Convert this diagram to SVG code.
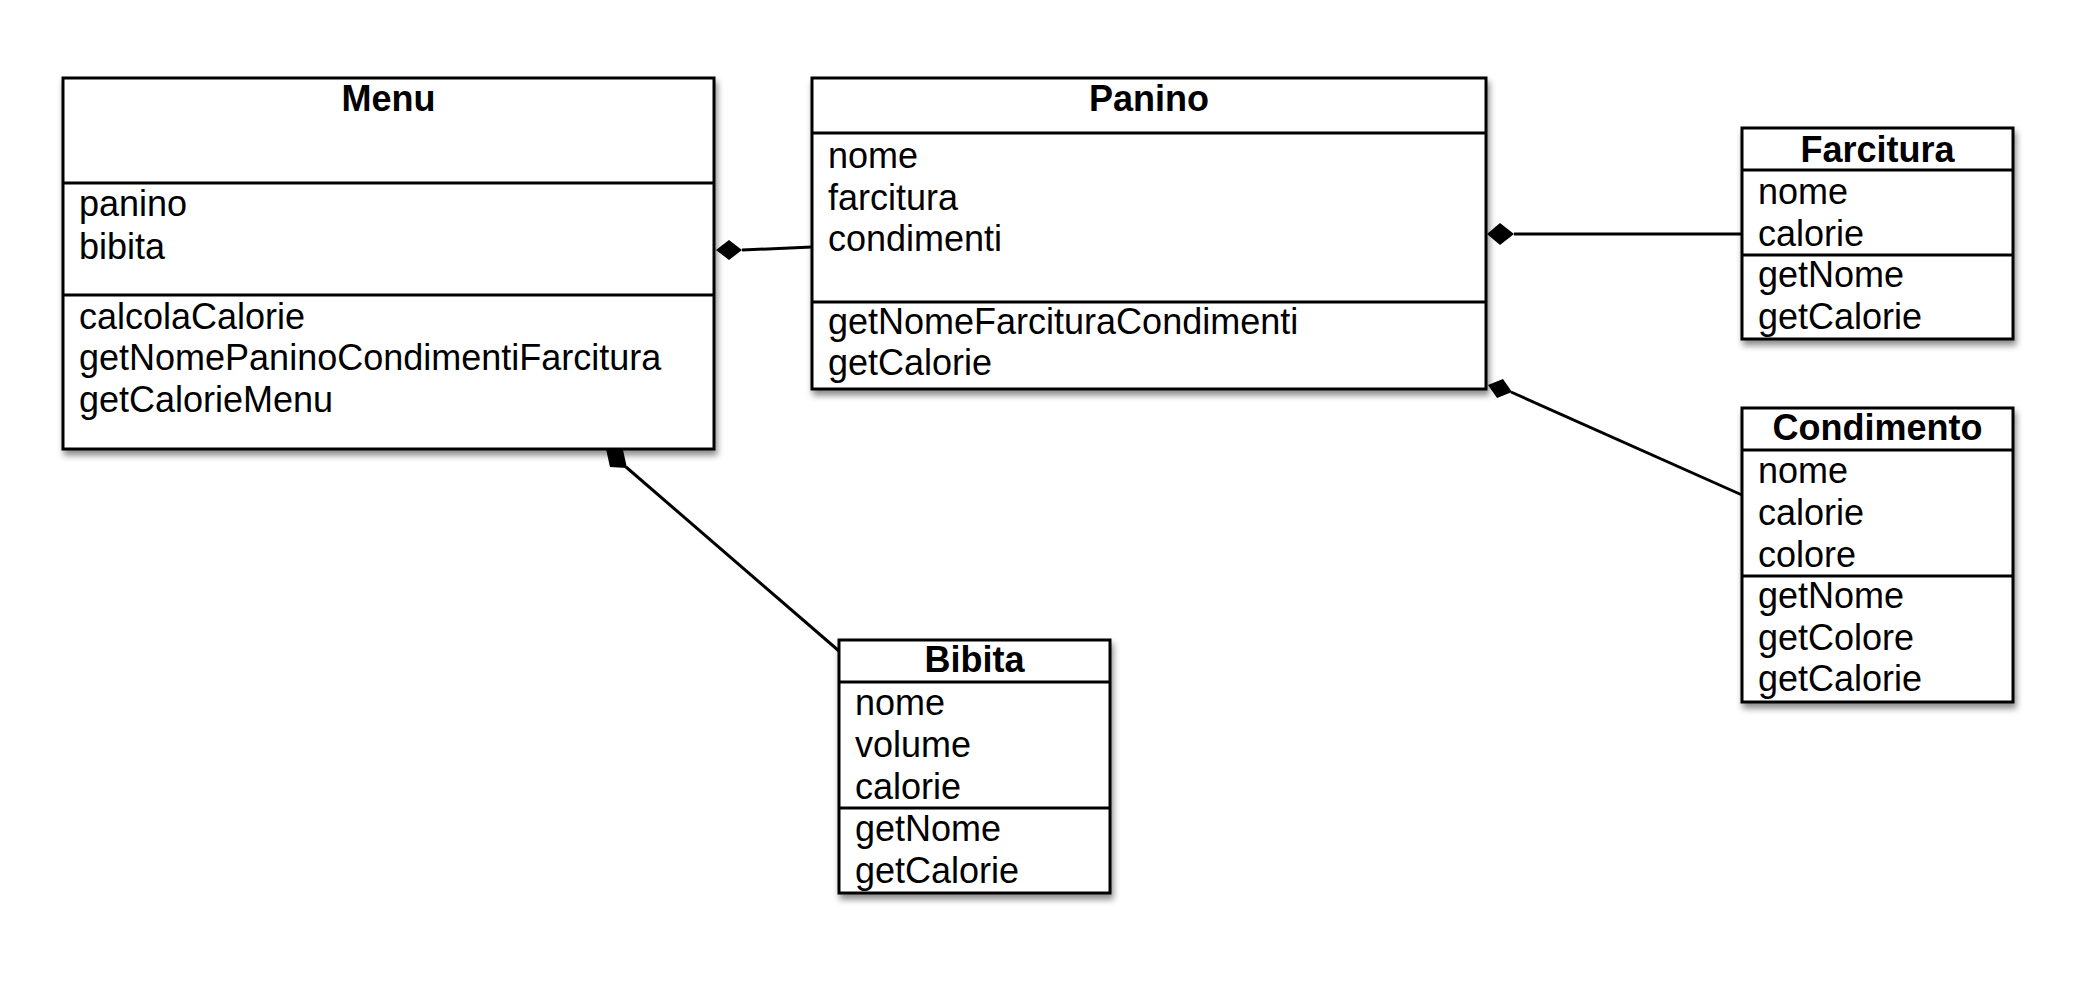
<svg xmlns="http://www.w3.org/2000/svg" width="2100" height="998" viewBox="0 0 2100 998">
<defs>
<filter id="sh" x="-10%" y="-10%" width="130%" height="130%">
<feDropShadow dx="2" dy="5" stdDeviation="3" flood-color="#000" flood-opacity="0.45"/>
</filter>
<style>
.box{fill:#fff;stroke:#000;stroke-width:3;filter:url(#sh)}
.div{stroke:#000;stroke-width:3}
.t{font-family:"Liberation Sans",Arial,Helvetica,sans-serif;font-size:36px;fill:#000}
.h{font-weight:bold;text-anchor:middle}
.ln{stroke:#000;stroke-width:3;fill:none}
.dm{fill:#000;stroke:none}
</style>
</defs>
<rect width="2100" height="998" fill="#fff"/>
<g id="connectors">
<line class="ln" x1="742" y1="250" x2="812" y2="247"/>
<polygon class="dm" points="716,250 729,240 742,250 729,260"/>
<line class="ln" x1="1514" y1="234" x2="1742" y2="234"/>
<polygon class="dm" points="1487,234 1500,223 1514,234 1500,245"/>
<line class="ln" x1="1511" y1="392" x2="1742" y2="495"/>
<polygon class="dm" points="1488,385 1503,379 1512,392 1497,398"/>
<line class="ln" x1="626" y1="467" x2="839" y2="651"/>
<polygon class="dm" points="606,449 623,450 627,468 610,467"/>
</g>
<g id="Menu">
<rect class="box" x="63" y="78" width="651" height="371"/>
<line class="div" x1="63" y1="183" x2="714" y2="183"/>
<line class="div" x1="63" y1="295" x2="714" y2="295"/>
<text class="t h" x="388.5" y="111">Menu</text>
<text class="t" x="79" y="216">panino</text>
<text class="t" x="79" y="259">bibita</text>
<text class="t" x="79" y="329">calcolaCalorie</text>
<text class="t" x="79" y="370">getNomePaninoCondimentiFarcitura</text>
<text class="t" x="79" y="412">getCalorieMenu</text>
</g>
<g id="Panino">
<rect class="box" x="812" y="78" width="674" height="311"/>
<line class="div" x1="812" y1="133" x2="1486" y2="133"/>
<line class="div" x1="812" y1="302" x2="1486" y2="302"/>
<text class="t h" x="1149" y="111">Panino</text>
<text class="t" x="828" y="168">nome</text>
<text class="t" x="828" y="210">farcitura</text>
<text class="t" x="828" y="251">condimenti</text>
<text class="t" x="828" y="334">getNomeFarcituraCondimenti</text>
<text class="t" x="828" y="375">getCalorie</text>
</g>
<g id="Farcitura">
<rect class="box" x="1742" y="128" width="271" height="211"/>
<line class="div" x1="1742" y1="170" x2="2013" y2="170"/>
<line class="div" x1="1742" y1="255" x2="2013" y2="255"/>
<text class="t h" x="1877.5" y="162">Farcitura</text>
<text class="t" x="1758" y="204">nome</text>
<text class="t" x="1758" y="246">calorie</text>
<text class="t" x="1758" y="287">getNome</text>
<text class="t" x="1758" y="329">getCalorie</text>
</g>
<g id="Condimento">
<rect class="box" x="1742" y="408" width="271" height="294"/>
<line class="div" x1="1742" y1="450" x2="2013" y2="450"/>
<line class="div" x1="1742" y1="576" x2="2013" y2="576"/>
<text class="t h" x="1877.5" y="440">Condimento</text>
<text class="t" x="1758" y="483">nome</text>
<text class="t" x="1758" y="525">calorie</text>
<text class="t" x="1758" y="567">colore</text>
<text class="t" x="1758" y="608">getNome</text>
<text class="t" x="1758" y="650">getColore</text>
<text class="t" x="1758" y="691">getCalorie</text>
</g>
<g id="Bibita">
<rect class="box" x="839" y="640" width="271" height="253"/>
<line class="div" x1="839" y1="682" x2="1110" y2="682"/>
<line class="div" x1="839" y1="808" x2="1110" y2="808"/>
<text class="t h" x="974.5" y="672">Bibita</text>
<text class="t" x="855" y="715">nome</text>
<text class="t" x="855" y="757">volume</text>
<text class="t" x="855" y="799">calorie</text>
<text class="t" x="855" y="841">getNome</text>
<text class="t" x="855" y="883">getCalorie</text>
</g>
</svg>
